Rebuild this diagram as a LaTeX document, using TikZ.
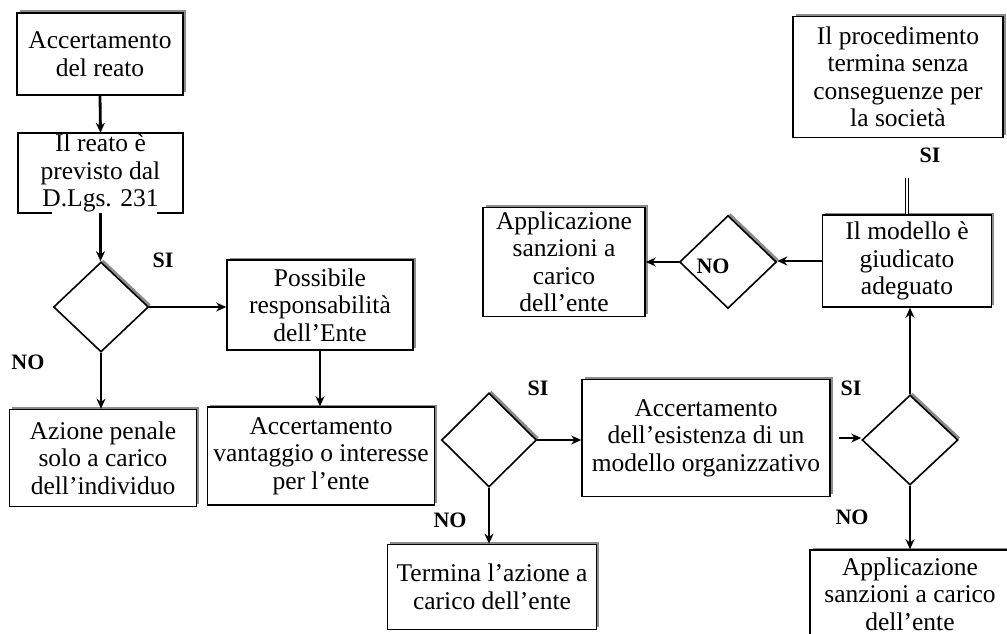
\documentclass[tikz,border=0pt]{standalone}
\usepackage{fontspec}
\setmainfont{Liberation Serif}
\usetikzlibrary{shapes.geometric,arrows.meta,shadows}
\begin{document}
\begin{tikzpicture}[x=1pt,y=-1pt,
  boxline/.style={line width=1.6pt},
  box/.style={draw, boxline, fill=white, align=center, inner sep=0pt,
    font=\fontsize{25.5}{27.5}\selectfont,
    general shadow={fill=black!45, shadow xshift=2.5pt, shadow yshift=2.5pt}},
  plainbox/.style={align=center, inner sep=0pt, font=\fontsize{25.5}{27.5}\selectfont},
  dia/.style={diamond, draw, boxline, fill=white, inner sep=0pt,
    general shadow={fill=black!45, shadow xshift=2.5pt, shadow yshift=2.5pt}},
  lab/.style={font=\fontsize{22}{24}\selectfont\bfseries, inner sep=0pt},
  conn/.style={line width=2.8pt, -{Stealth[length=10pt,width=9pt]}},
]
\clip (0,0) rectangle (1007,634);
\fill[white] (0,0) rectangle (1007,634);

% boxes
\node[box, minimum width=166pt, minimum height=82pt] (b1) at (100,54) {Accertamento\\del reato};
\node[plainbox, minimum width=165pt, minimum height=80pt] (b2) at (100.5,173) {Il reato è\\previsto dal\\D.Lgs. 231};
\draw[boxline] ([xshift=34pt]b2.south west) -- (b2.south west) -- (b2.north west) -- (b2.north east) -- (b2.south east) -- ([xshift=-26pt]b2.south east);
\node[dia, minimum width=95pt, minimum height=90pt] (d1) at (101,307) {};
\node[box, minimum width=186pt, minimum height=90pt] (b3) at (320,305) {Possibile\\responsabilità\\dell’Ente};
\node[box, minimum width=187pt, minimum height=97pt] (b4) at (103,458) {Azione penale\\solo a carico\\dell’individuo};
\node[box, minimum width=227pt, minimum height=98pt] (b5) at (321,456) {Accertamento\\vantaggio o interesse\\per l’ente};
\node[dia, minimum width=95pt, minimum height=94pt] (d2) at (489,440) {};
\node[box, minimum width=248pt, minimum height=117pt] (b6) at (706,438) {Accertamento\\dell’esistenza di un\\modello organizzativo};
\node[box, minimum width=209pt, minimum height=85pt] (b7) at (492,587) {Termina l’azione a\\carico dell’ente};
\node[dia, minimum width=96pt, minimum height=90pt] (d3) at (910,440) {};
\node[box, minimum width=200pt, minimum height=88pt] (b8) at (910,594) {Applicazione\\sanzioni a carico\\dell’ente};
\node[box, minimum width=169pt, minimum height=92pt] (b9) at (907,261) {Il modello è\\giudicato\\adeguato};
\node[box, minimum width=210pt, minimum height=121pt] (b10) at (898,77) {Il procedimento\\termina senza\\conseguenze per\\la società};
\node[dia, minimum width=97pt, minimum height=93pt] (d4) at (728,262) {};
\node[box, minimum width=162pt, minimum height=109pt] (b11) at (564,262) {Applicazione\\sanzioni a\\carico\\dell’ente};

% labels
\node[lab] (l1) at (163,260) {SI};
\node[lab] (l2) at (28,362) {NO};
\node[lab] (l3) at (538,388) {SI};
\node[lab] (l4) at (450,520) {NO};
\node[lab] (l5) at (851,388) {SI};
\node[lab] (l6) at (852,517) {NO};
\node[lab] (l7) at (930,155) {SI};
\node[lab] (l8) at (713,266) {NO};

% connectors
\draw[conn] (b1.south) -- (b2.north);
\draw[conn] (b2.south) -- (b2.south |- d1.north);
\draw[conn] (d1.east) -- (d1.east -| b3.west);
\draw[conn] (d1.south) -- (d1.south |- b4.north);
\draw[conn] (b3.south) -- (b3.south |- b5.north);
\draw[conn] (d2.east) -- (d2.east -| b6.west);
\draw[conn] (d2.south) -- (d2.south |- b7.north);
\draw[conn, shorten <=8pt] (b6.east) -- (b6.east -| d3.west);
\draw[conn] (d3.south) -- (d3.south |- b8.north);
\draw[conn] (d3.north) -- (d3.north |- b9.south);
\draw[conn] (b9.west) -- (b9.west -| d4.east);
\draw[conn] (d4.west) -- (d4.west -| b11.east);
\coordinate (c1) at (905,178);
\draw[line width=0.8pt, double, double distance=1.5pt] (b9.north) -- (b9.north |- c1);
\end{tikzpicture}
\end{document}
